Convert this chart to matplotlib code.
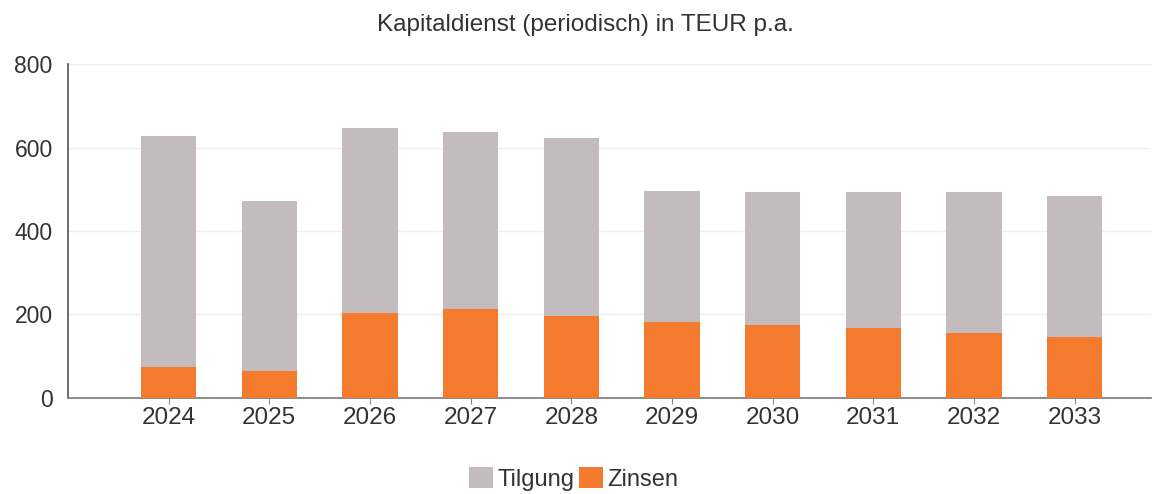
import numpy as np
import matplotlib.pyplot as plt

# ── Data (TEUR p.a.) ────────────────────────────────────────────
years   = ['2024', '2025', '2026', '2027', '2028',
           '2029', '2030', '2031', '2032', '2033']
zinsen  = [73, 64, 203, 212, 196, 182, 175, 166, 154, 146]
tilgung = [555, 408, 443, 426, 427, 313, 318, 328, 340, 338]

c_tilgung = '#c4bbbe'
c_zinsen  = '#f47a2e'
c_text    = '#333333'

plt.rcParams['font.family'] = ['Liberation Sans', 'DejaVu Sans']

fig = plt.figure(figsize=(11.71, 4.94), dpi=100)
ax = fig.add_axes([0.058, 0.195, 0.925, 0.675])

x = np.arange(len(years))
ax.bar(x, zinsen, width=0.55, color=c_zinsen, label='Zinsen', zorder=3)
ax.bar(x, tilgung, width=0.55, bottom=zinsen, color=c_tilgung,
       label='Tilgung', zorder=3)

ax.set_xlim(-1.0, 9.76)
ax.set_ylim(0, 800)
ax.set_yticks([0, 200, 400, 600, 800])
ax.set_xticks(x)
ax.set_xticklabels(years)
ax.tick_params(axis='y', length=0, pad=11, labelsize=16.5, labelcolor=c_text)
ax.tick_params(axis='x', length=4, width=0.8, color='#888888',
               labelsize=17.5, labelcolor=c_text, pad=3)
ax.grid(axis='y', color='#eeeeee', linewidth=1.0, zorder=0)

for side in ['top', 'right']:
    ax.spines[side].set_visible(False)
ax.spines['left'].set_color('#555555')
ax.spines['left'].set_linewidth(1.2)
ax.spines['bottom'].set_color('#777777')
ax.spines['bottom'].set_linewidth(1.2)

fig.suptitle('Kapitaldienst (periodisch) in TEUR p.a.', y=0.972,
             fontsize=17.5, color=c_text)

handles, labels = ax.get_legend_handles_labels()
fig.legend(handles[::-1], labels[::-1], loc='lower center',
           bbox_to_anchor=(0.49, -0.036), ncol=2, frameon=False,
           fontsize=17, handlelength=1.0, handleheight=1.0,
           handletextpad=0.2, columnspacing=0.2, labelcolor=c_text)

fig.savefig('out.png', dpi=100)
